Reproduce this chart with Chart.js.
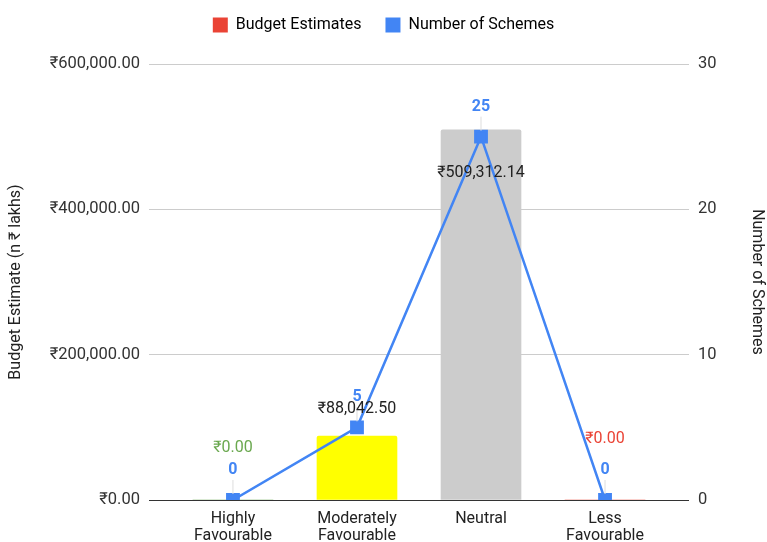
<!DOCTYPE html>
<html>
<head>
<meta charset="utf-8">
<script src="https://cdn.jsdelivr.net/npm/chart.js@4"></script>
<style>
  html, body { margin: 0; padding: 0; background: #fff; }
  #wrap { width: 767px; height: 542px; }
</style>
</head>
<body>
<div id="wrap"><canvas id="grafico"></canvas></div>
<script>
const categorias = [["Highly", "Favourable"], ["Moderately", "Favourable"], "Neutral", ["Less", "Favourable"]];
const orcamento = [0, 88042.50, 509312.14, 0];
const esquemas = [0, 5, 25, 0];
const ticksOrcamento = [0, 200000, 400000, 600000];
const ticksEsquemas = [0, 10, 20, 30];

// estilo
const coresBarras = ["#6aa84f", "#ffff00", "#cccccc", "#ea4335"];
const coresRotulos = ["#6aa84f", "#222222", "#222222", "#ea4335"];
const deslocRotulos = [-52, -27, 43, -61];
const azul = "#4285f4";
const fonte = "Roboto, 'Liberation Sans', Arial, sans-serif";

function formatar(v) {
  const [int, dec] = v.toFixed(2).split(".");
  return "₹" + int.replace(/\B(?=(\d{3})+(?!\d))/g, ",") + "." + dec;
}

// aumenta a altura da legenda sem mover os itens
const ajusteLegenda = {
  id: "ajusteLegenda",
  beforeLayout(chart) {
    const lg = chart.legend;
    if (lg && !lg._ajustado) {
      const fitOriginal = lg.fit;
      lg.fit = function () {
        fitOriginal.call(this);
        this.height += 21;
      };
      lg._ajustado = true;
    }
  }
};

const rotulos = {
  id: "rotulos",
  afterDatasetsDraw(chart) {
    const ctx = chart.ctx;
    const barras = chart.getDatasetMeta(0).data;
    const pontos = chart.getDatasetMeta(1).data;
    ctx.save();
    ctx.textAlign = "center";
    ctx.textBaseline = "middle";

    pontos.forEach((p) => {
      ctx.strokeStyle = "#dddddd";
      ctx.lineWidth = 1;
      ctx.beginPath();
      ctx.moveTo(p.x, p.y - 20);
      ctx.lineTo(p.x, p.y - 6);
      ctx.stroke();
    });

    barras.forEach((b, i) => {
      ctx.font = "16px " + fonte;
      ctx.fillStyle = coresRotulos[i];
      ctx.fillText(formatar(orcamento[i]), b.x, b.y + deslocRotulos[i]);
    });

    pontos.forEach((p, i) => {
      ctx.font = "bold 16px " + fonte;
      ctx.fillStyle = azul;
      ctx.fillText(String(esquemas[i]), p.x, p.y - 30);
    });
    ctx.restore();
  }
};

new Chart(document.getElementById("grafico"), {
  data: {
    datasets: [
      {
        type: "bar",
        label: "Budget Estimates",
        data: orcamento.map((v, i) => ({ x: i, y: v })),
        backgroundColor: coresBarras,
        barThickness: 80,
        borderRadius: 2,
        borderSkipped: "bottom",
        yAxisID: "y",
        order: 2
      },
      {
        type: "line",
        label: "Number of Schemes",
        data: esquemas.map((v, i) => ({ x: i, y: v })),
        borderColor: azul,
        backgroundColor: azul,
        borderWidth: 2.5,
        pointStyle: "rect",
        pointRadius: 8,
        pointHoverRadius: 8,
        yAxisID: "y1",
        order: 1
      }
    ]
  },
  options: {
    responsive: true,
    maintainAspectRatio: false,
    animation: false,
    layout: { padding: { top: -7, left: 0, right: 0, bottom: 0 } },
    plugins: {
      tooltip: { enabled: false },
      legend: {
        position: "top",
        labels: {
          usePointStyle: true,
          pointStyle: "rect",
          boxWidth: 15,
          boxHeight: 15,
          padding: 24,
          color: "#222",
          font: { family: fonte, size: 16 },
          generateLabels() {
            return [
              { text: "Budget Estimates", fillStyle: "#ea4335", strokeStyle: "#ea4335", lineWidth: 0, pointStyle: "rect", datasetIndex: 0 },
              { text: "Number of Schemes", fillStyle: azul, strokeStyle: azul, lineWidth: 0, pointStyle: "rect", datasetIndex: 1 }
            ];
          }
        }
      }
    },
    scales: {
      x: {
        type: "linear",
        offset: false,
        min: -0.677,
        max: 3.677,
        afterBuildTicks(s) { s.ticks = categorias.map((c, i) => ({ value: i })); },
        afterFit(s) { s.height = 42; },
        grid: { display: false, drawTicks: false },
        border: { display: false },
        ticks: {
          autoSkip: false,
          maxRotation: 0,
          padding: 11,
          color: "#222",
          font: { family: fonte, size: 16, lineHeight: 1.05 },
          callback: (v) => categorias[v]
        }
      },
      y: {
        position: "left",
        min: 0,
        max: 600000,
        afterBuildTicks(s) { s.ticks = ticksOrcamento.map((v) => ({ value: v })); },
        afterFit(s) { s.width = 149; },
        grid: {
          drawTicks: false,
          color: (c) => (c.tick && c.tick.value === 0 ? "#333333" : "#cccccc"),
          lineWidth: 1
        },
        border: { display: false },
        title: {
          display: true,
          text: "Budget Estimate (n ₹ lakhs)",
          color: "#222",
          font: { family: fonte, size: 16 },
          padding: { top: 6, bottom: 0 }
        },
        ticks: {
          padding: 9,
          color: "#333",
          font: { family: fonte, size: 16.5 },
          callback: (v) => formatar(v)
        }
      },
      y1: {
        position: "right",
        min: 0,
        max: 30,
        afterBuildTicks(s) { s.ticks = ticksEsquemas.map((v) => ({ value: v })); },
        afterFit(s) { s.width = 78; },
        grid: { display: false, drawTicks: false },
        border: { display: false },
        title: {
          display: true,
          text: "Number of Schemes",
          color: "#222",
          font: { family: fonte, size: 16 },
          padding: { top: 0, bottom: 0 }
        },
        ticks: {
          padding: 9,
          color: "#333",
          font: { family: fonte, size: 16.5 }
        }
      }
    }
  },
  plugins: [ajusteLegenda, rotulos]
});
</script>
</body>
</html>
